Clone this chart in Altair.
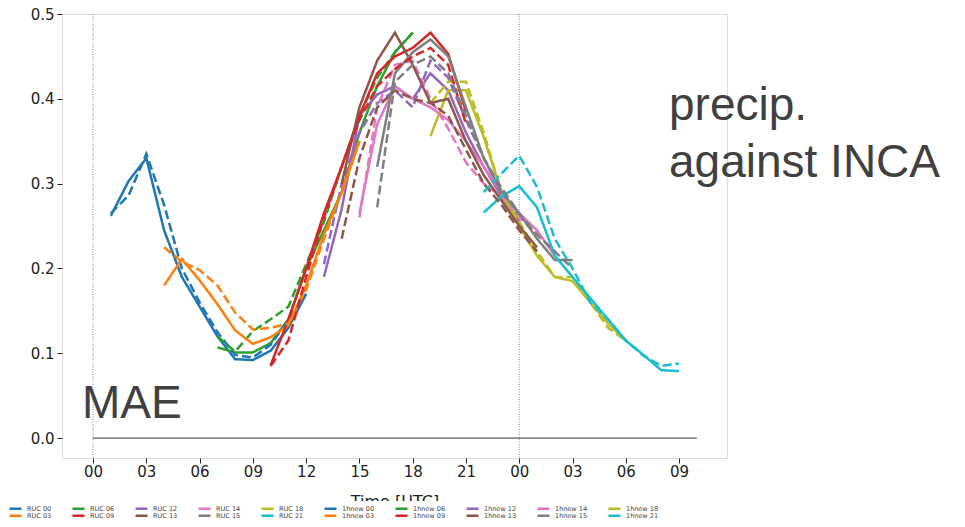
import altair as alt
import pandas as pd

# ---- data ----
RUNS = ["00", "03", "06", "09", "12", "13", "14", "15", "18", "21"]
COLORS = ["#1f77b4", "#ff7f0e", "#2ca02c", "#d62728", "#9467bd",
          "#8c564b", "#e377c2", "#7f7f7f", "#bcbd22", "#17becf"]

# each run covers lead hours +1 .. +12 (hours since 00 UTC of day 1)
RUC_00 = [0.262, 0.303, 0.330, 0.245, 0.190, 0.155, 0.120, 0.093, 0.092, 0.103, 0.130, 0.170]
RUC_03 = [0.180, 0.211, 0.186, 0.158, 0.127, 0.111, 0.119, 0.133, 0.180, 0.240, 0.290, 0.350]
RUC_06 = [0.107, 0.101, 0.101, 0.112, 0.140, 0.200, 0.245, 0.290, 0.360, 0.415, 0.455, 0.478]
RUC_09 = [0.086, 0.140, 0.200, 0.265, 0.320, 0.380, 0.430, 0.450, 0.460, 0.478, 0.453, 0.385]
RUC_12 = [0.190, 0.270, 0.380, 0.405, 0.415, 0.400, 0.430, 0.410, 0.360, 0.320, 0.285, 0.255]
RUC_13 = [0.300, 0.390, 0.445, 0.478, 0.440, 0.395, 0.400, 0.350, 0.310, 0.280, 0.250, 0.225]
RUC_14 = [0.265, 0.370, 0.415, 0.400, 0.390, 0.375, 0.350, 0.320, 0.290, 0.265, 0.245, 0.215]
RUC_15 = [0.320, 0.430, 0.455, 0.470, 0.450, 0.390, 0.330, 0.290, 0.265, 0.235, 0.210, 0.210]
RUC_18 = [0.356, 0.410, 0.410, 0.355, 0.290, 0.250, 0.215, 0.190, 0.185, 0.160, 0.135, 0.115]
RUC_21 = [0.266, 0.285, 0.297, 0.272, 0.215, 0.190, 0.165, 0.140, 0.115, 0.098, 0.080, 0.079]

NEW_00 = [0.265, 0.286, 0.335, 0.275, 0.200, 0.160, 0.125, 0.098, 0.095, 0.110, 0.140, 0.170]
NEW_03 = [0.225, 0.208, 0.198, 0.180, 0.148, 0.128, 0.130, 0.135, 0.175, 0.235, 0.290, 0.350]
NEW_06 = [0.120, 0.102, 0.126, 0.140, 0.155, 0.205, 0.255, 0.320, 0.380, 0.425, 0.455, 0.478]
NEW_09 = [0.085, 0.115, 0.190, 0.260, 0.320, 0.375, 0.415, 0.435, 0.450, 0.460, 0.440, 0.370]
NEW_12 = [0.205, 0.300, 0.360, 0.395, 0.410, 0.390, 0.445, 0.425, 0.375, 0.330, 0.290, 0.260]
NEW_13 = [0.235, 0.330, 0.390, 0.410, 0.400, 0.395, 0.380, 0.340, 0.300, 0.275, 0.245, 0.220]
NEW_14 = [0.260, 0.390, 0.440, 0.445, 0.400, 0.365, 0.325, 0.300, 0.285, 0.260, 0.240, 0.220]
NEW_15 = [0.272, 0.420, 0.440, 0.450, 0.430, 0.380, 0.330, 0.295, 0.265, 0.240, 0.220, 0.200]
NEW_18 = [0.395, 0.420, 0.420, 0.360, 0.290, 0.255, 0.220, 0.190, 0.190, 0.160, 0.130, 0.115]
NEW_21 = [0.290, 0.312, 0.333, 0.296, 0.235, 0.200, 0.160, 0.140, 0.115, 0.097, 0.085, 0.088]

RUC = [RUC_00, RUC_03, RUC_06, RUC_09, RUC_12, RUC_13, RUC_14, RUC_15, RUC_18, RUC_21]
NEW = [NEW_00, NEW_03, NEW_06, NEW_09, NEW_12, NEW_13, NEW_14, NEW_15, NEW_18, NEW_21]

X_TICKS = list(range(0, 34, 3))
Y_TICKS = [0.0, 0.1, 0.2, 0.3, 0.4, 0.5]
DAY_LINES = [0, 24]

rows = []
for kind, group in (("RUC", RUC), ("1hnew", NEW)):
    for run, vals in zip(RUNS, group):
        start = int(run) + 1
        for i, v in enumerate(vals):
            rows.append({"series": f"{kind} {run}", "kind": kind,
                         "hour": start + i, "mae": v})
df = pd.DataFrame(rows)

# legend rows (matplotlib fills columns first: 2 rows x 10 columns)
ROW1_IDX = [0, 2, 4, 6, 8]
ROW2_IDX = [1, 3, 5, 7, 9]


def legend_row(idxs):
    names, cols = [], []
    for kind in ("RUC", "1hnew"):
        for i in idxs:
            names.append(f"{kind} {RUNS[i]}")
            cols.append(COLORS[i])
    return names, cols


row1_names, row1_cols = legend_row(ROW1_IDX)
row2_names, row2_cols = legend_row(ROW2_IDX)

W, H = 665, 444
xscale = alt.Scale(domain=[-1.75, 35.7], nice=False, zero=False)
yscale = alt.Scale(domain=[-0.0235, 0.5], nice=False, zero=False)

x_enc = alt.X("hour:Q", scale=xscale,
              axis=alt.Axis(values=X_TICKS, title="Time [UTC]",
                            labelExpr="(datum.value % 24 < 10 ? '0' : '') + (datum.value % 24)",
                            labelFontSize=15, labelFont="DejaVu Sans", labelColor="#222",
                            titleFont="DejaVu Sans", titleFontSize=16, titleFontWeight="normal",
                            titleColor="#222", titlePadding=14, tickSize=5, tickColor="#222",
                            labelPadding=1, domain=False, grid=False))
y_enc = alt.Y("mae:Q", scale=yscale,
              axis=alt.Axis(values=Y_TICKS, format=".1f", title=None,
                            labelFontSize=15, labelFont="DejaVu Sans", labelColor="#222",
                            tickSize=5, tickColor="#222", labelPadding=3,
                            domain=False, grid=False))
dash_enc = alt.StrokeDash("kind:N", scale=alt.Scale(domain=["RUC", "1hnew"],
                                                    range=[[1, 0], [9, 4]]),
                          legend=None)


def leg(y, fill):
    kw = dict(orient="none", legendX=-54, legendY=y, columns=10, direction="horizontal",
              title=None, symbolType="stroke", symbolStrokeWidth=2.5,
              symbolSize=144,
              labelFontSize=6.5, labelColor="#444", labelFont="DejaVu Sans",
              padding=0, columnPadding=15, labelOffset=4)
    if fill:
        kw["fillColor"] = "white"
    return alt.Legend(**kw)


lines1 = alt.Chart(df).transform_filter(
    alt.FieldOneOfPredicate(field="series", oneOf=row1_names)
).mark_line(strokeWidth=2.5).encode(
    x=x_enc, y=y_enc,
    stroke=alt.Stroke("series:N", scale=alt.Scale(domain=row1_names, range=row1_cols),
                      legend=leg(487, True)),
    strokeDash=dash_enc, detail="series:N",
)
lines2 = alt.Chart(df).transform_filter(
    alt.FieldOneOfPredicate(field="series", oneOf=row2_names)
).mark_line(strokeWidth=2.5).encode(
    x=x_enc, y=y_enc,
    color=alt.Color("series:N", scale=alt.Scale(domain=row2_names, range=row2_cols),
                    legend=leg(494, False)),
    strokeDash=dash_enc, detail="series:N",
)

vlines = alt.Chart(pd.DataFrame({"h": DAY_LINES})).mark_rule(
    color="#666", strokeWidth=0.8, strokeDash=[1, 1.5]
).encode(x=alt.X("h:Q", scale=xscale), y=alt.value(0), y2=alt.value(H))

zero = alt.Chart(pd.DataFrame({"x0": [0], "x1": [34], "y": [0.0]})).mark_rule(
    color="#333", strokeWidth=1
).encode(x=alt.X("x0:Q", scale=xscale), x2="x1:Q", y=alt.Y("y:Q", scale=yscale))

TXT = dict(align="left", baseline="alphabetic", fontSize=46, font="Liberation Sans",
           color="#404040")
note1 = alt.Chart(pd.DataFrame({"t": ["precip."]})).mark_text(**TXT).encode(
    x=alt.value(607), y=alt.value(106), text="t:N")
note2 = alt.Chart(pd.DataFrame({"t": ["against INCA"]})).mark_text(**TXT).encode(
    x=alt.value(607), y=alt.value(163), text="t:N")
mae = alt.Chart(pd.DataFrame({"t": ["MAE"]})).mark_text(**TXT).encode(
    x=alt.value(20), y=alt.value(404), text="t:N")

chart = alt.layer(vlines, zero, lines1, lines2, note1, note2, mae).resolve_scale(
    color="independent", stroke="independent"
).properties(
    width=W, height=H,
    autosize=alt.AutoSizeParams(type="none"),
    padding={"left": 54, "top": 6, "right": 230, "bottom": 61},
).configure_view(stroke="#222", strokeWidth=1).configure(background="white")

chart.save("out.html", embed_options={"renderer": "svg", "actions": False})
